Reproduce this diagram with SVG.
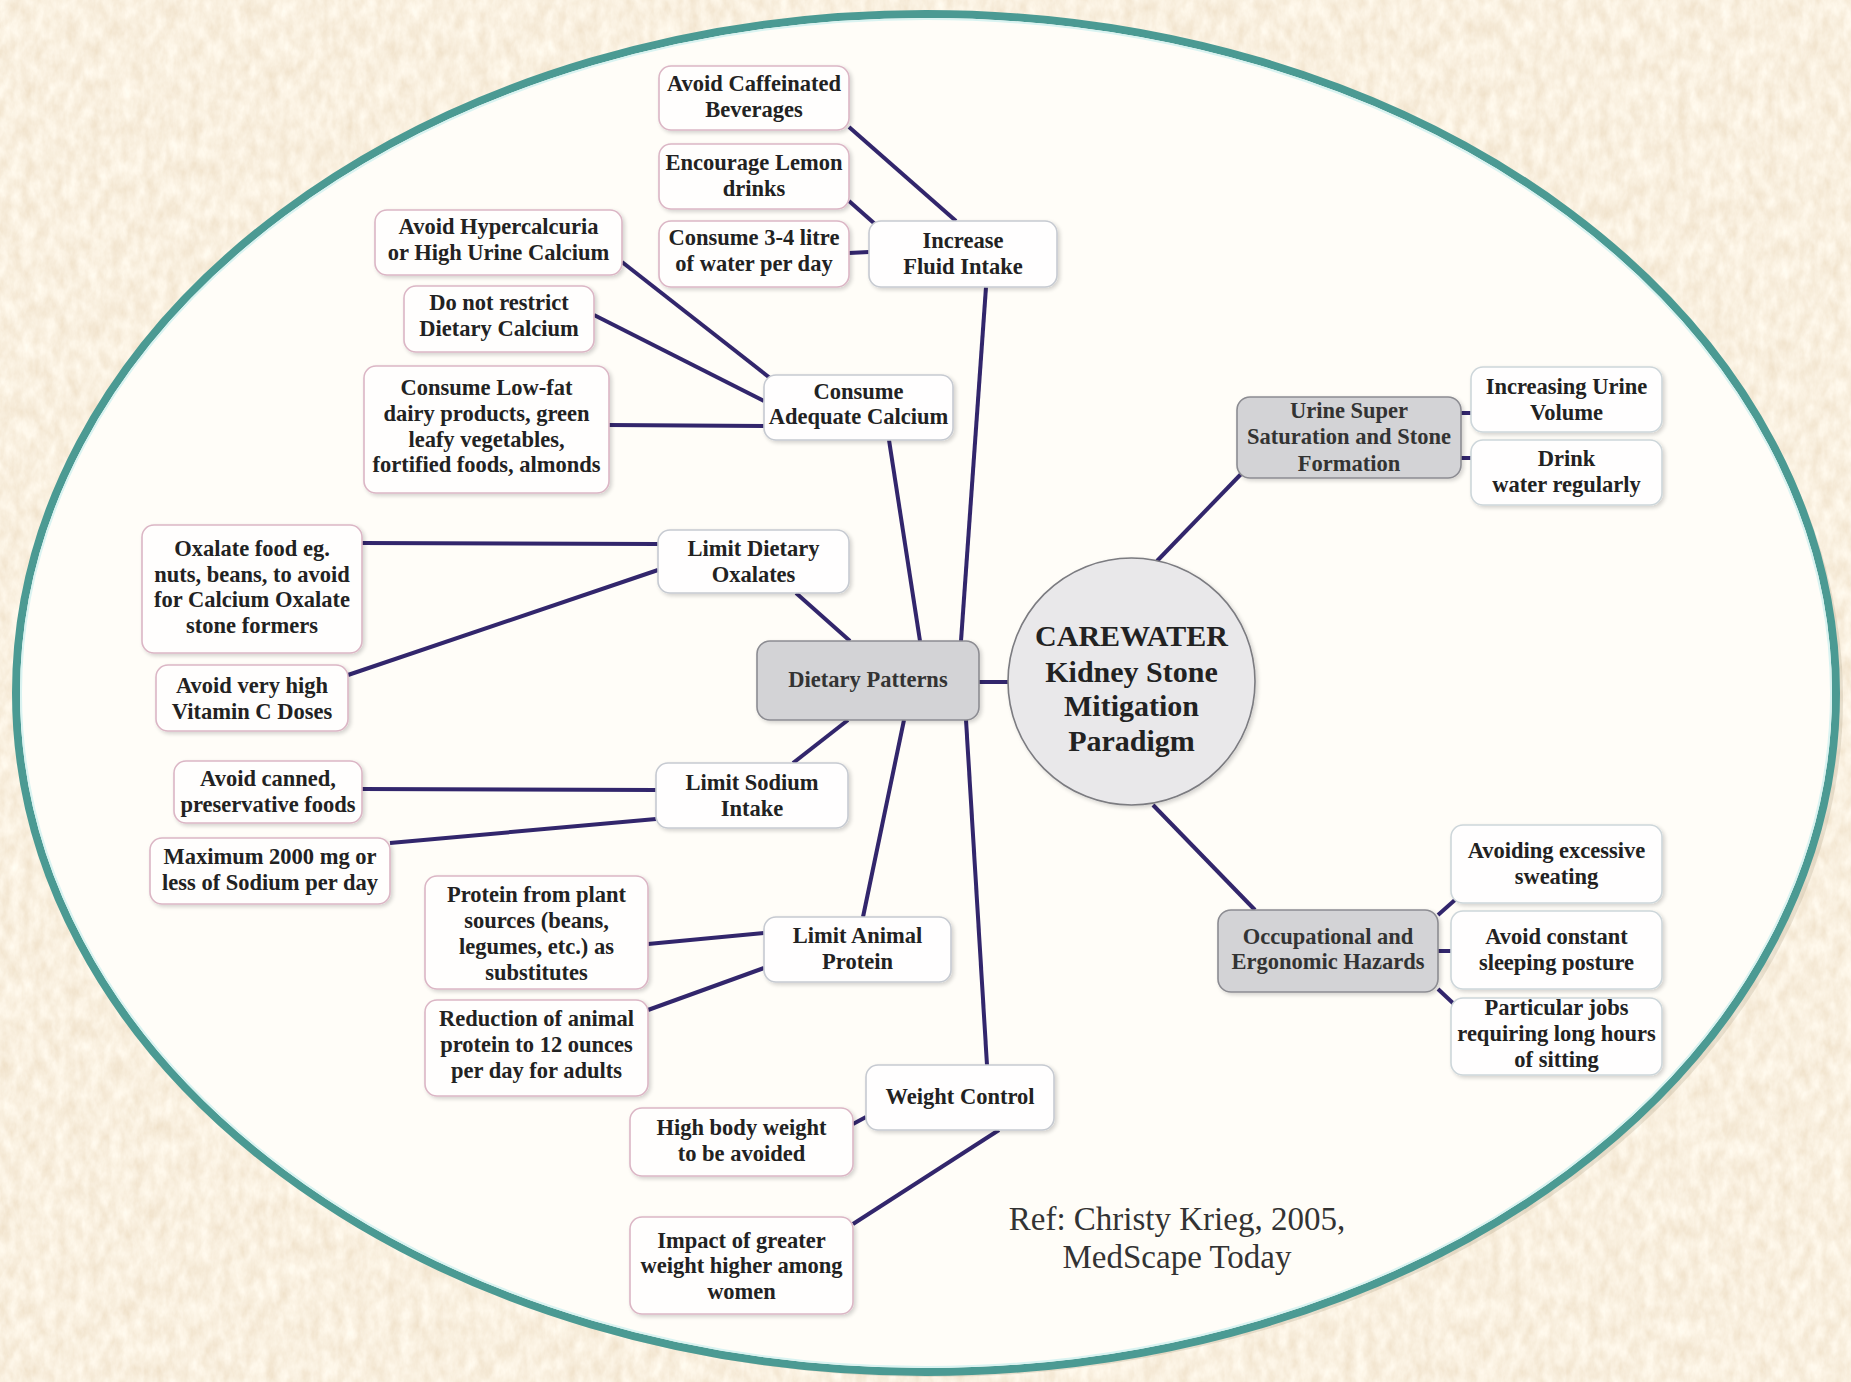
<svg xmlns="http://www.w3.org/2000/svg" width="1851" height="1382" viewBox="0 0 1851 1382">
<defs>
<filter id="paper" x="0" y="0" width="100%" height="100%" filterUnits="userSpaceOnUse">
<feTurbulence type="fractalNoise" baseFrequency="0.09 0.05" numOctaves="4" seed="11" result="n"/>
<feColorMatrix in="n" type="matrix" values="0.18 0 0 0 0.86  0.26 0 0 0 0.74  0.34 0 0 0 0.57  0 0 0 0 1"/>
</filter>
<filter id="shadow" x="-10%" y="-10%" width="130%" height="130%">
<feGaussianBlur in="SourceAlpha" stdDeviation="2"/>
<feOffset dx="1.5" dy="2" result="b"/>
<feComponentTransfer><feFuncA type="linear" slope="0.18"/></feComponentTransfer>
<feMerge><feMergeNode/><feMergeNode in="SourceGraphic"/></feMerge>
</filter>
</defs>
<style>
text{font-family:"Liberation Serif","Times New Roman",serif;font-weight:bold;font-size:22.5px;fill:#222;text-anchor:middle}
.leaf rect{fill:#fffefd;stroke:#dbb6c5;stroke-width:1.6}
.cat rect{fill:#fffefe;stroke:#c6cad1;stroke-width:1.6}
.rleaf rect{fill:#fffefe;stroke:#cdd6da;stroke-width:1.6}
.grey rect{fill:#d3d3d6;stroke:#8c8c92;stroke-width:1.6}
.grey text{fill:#333}
.conn line{stroke:#32266c;stroke-width:4}
.ref{font-weight:normal;font-size:33px;fill:#333}
.core text{font-size:30px;fill:#222}
</style>
<rect x="0" y="0" width="1851" height="1382" fill="#f2dcb9"/>
<rect x="0" y="0" width="1851" height="1382" filter="url(#paper)"/>
<ellipse cx="928" cy="695" rx="912" ry="678" fill="#a99a7f" opacity="0.25" transform="translate(3,4)"/>
<ellipse cx="926" cy="693" rx="910" ry="679" fill="#fffdf8" stroke="#4b9a93" stroke-width="8"/>
<ellipse cx="926" cy="693" rx="905" ry="674" fill="none" stroke="#d9f3f1" stroke-width="2"/>

<g class="conn">
<line x1="849" y1="127" x2="956" y2="221"/>
<line x1="849" y1="201" x2="875" y2="224"/>
<line x1="849" y1="253" x2="869" y2="252"/>
<line x1="986" y1="287" x2="961" y2="641"/>
<line x1="622" y1="262" x2="770" y2="378"/>
<line x1="594" y1="315" x2="764" y2="401"/>
<line x1="609" y1="425" x2="764" y2="426"/>
<line x1="889" y1="440" x2="920" y2="641"/>
<line x1="362" y1="543" x2="658" y2="544"/>
<line x1="348" y1="675" x2="658" y2="570"/>
<line x1="796" y1="593" x2="850" y2="641"/>
<line x1="848" y1="720" x2="793" y2="763"/>
<line x1="362" y1="789" x2="656" y2="790"/>
<line x1="390" y1="843" x2="656" y2="819"/>
<line x1="904" y1="720" x2="863" y2="917"/>
<line x1="648" y1="944" x2="764" y2="933"/>
<line x1="648" y1="1010" x2="764" y2="968"/>
<line x1="966" y1="720" x2="987" y2="1065"/>
<line x1="853" y1="1124" x2="866" y2="1117"/>
<line x1="999" y1="1130" x2="853" y2="1224"/>
<line x1="979" y1="682" x2="1008" y2="682"/>
<line x1="1157" y1="561" x2="1243" y2="472"/>
<line x1="1461" y1="413" x2="1471" y2="413"/>
<line x1="1461" y1="458" x2="1471" y2="458"/>
<line x1="1153" y1="805" x2="1255" y2="910"/>
<line x1="1438" y1="915" x2="1456" y2="899"/>
<line x1="1438" y1="951" x2="1451" y2="951"/>
<line x1="1438" y1="989" x2="1456" y2="1006"/>
</g>

<g id="core" class="core">
<ellipse cx="1131.5" cy="681.5" rx="123.5" ry="123.5" fill="#e9e8ea" stroke="#7b7b80" stroke-width="1.6" filter="url(#shadow)"/>
<text x="1131.5" y="646">CAREWATER</text>
<text x="1131.5" y="682">Kidney Stone</text>
<text x="1131.5" y="716">Mitigation</text>
<text x="1131.5" y="751">Paradigm</text>
</g>

<g id="dietary" class="grey"><rect x="757" y="641" width="222" height="79" rx="13" filter="url(#shadow)"/><text x="868" y="687">Dietary Patterns</text></g>
<g id="urine-super" class="grey"><rect x="1237" y="397" width="224" height="81" rx="13" filter="url(#shadow)"/><text x="1349" y="418">Urine Super</text><text x="1349" y="444">Saturation and Stone</text><text x="1349" y="471">Formation</text></g>
<g id="occupational" class="grey"><rect x="1218" y="910" width="220" height="82" rx="13" filter="url(#shadow)"/><text x="1328" y="944">Occupational and</text><text x="1328" y="969">Ergonomic Hazards</text></g>

<g id="avoid-caffeine" class="leaf"><rect x="659" y="66" width="190" height="64" rx="12" filter="url(#shadow)"/><text x="754" y="91">Avoid Caffeinated</text><text x="754" y="117">Beverages</text></g>
<g id="lemon" class="leaf"><rect x="659" y="144" width="190" height="65" rx="12" filter="url(#shadow)"/><text x="754" y="170">Encourage Lemon</text><text x="754" y="196">drinks</text></g>
<g id="water" class="leaf"><rect x="659" y="221" width="190" height="66" rx="12" filter="url(#shadow)"/><text x="754" y="245">Consume 3-4 litre</text><text x="754" y="271">of water per day</text></g>
<g id="fluid" class="cat"><rect x="869" y="221" width="188" height="66" rx="12" filter="url(#shadow)"/><text x="963" y="248">Increase</text><text x="963" y="274">Fluid Intake</text></g>

<g id="hypercalciuria" class="leaf"><rect x="375" y="210" width="247" height="65" rx="12" filter="url(#shadow)"/><text x="498.5" y="234">Avoid Hypercalcuria</text><text x="498.5" y="260">or High Urine Calcium</text></g>
<g id="no-restrict" class="leaf"><rect x="404" y="286" width="190" height="66" rx="12" filter="url(#shadow)"/><text x="499" y="310">Do not restrict</text><text x="499" y="336">Dietary Calcium</text></g>
<g id="low-fat" class="leaf"><rect x="364" y="366" width="245" height="127" rx="12" filter="url(#shadow)"/><text x="486.5" y="395">Consume Low-fat</text><text x="486.5" y="421">dairy products, green</text><text x="486.5" y="447">leafy vegetables,</text><text x="486.5" y="472">fortified foods, almonds</text></g>
<g id="calcium" class="cat"><rect x="764" y="375" width="189" height="65" rx="12" filter="url(#shadow)"/><text x="858.5" y="399">Consume</text><text x="858.5" y="424">Adequate Calcium</text></g>

<g id="oxalates" class="cat"><rect x="658" y="530" width="191" height="63" rx="12" filter="url(#shadow)"/><text x="753.5" y="556">Limit Dietary</text><text x="753.5" y="582">Oxalates</text></g>
<g id="oxalate-food" class="leaf"><rect x="142" y="525" width="220" height="128" rx="12" filter="url(#shadow)"/><text x="252" y="556">Oxalate food eg.</text><text x="252" y="582">nuts, beans, to avoid</text><text x="252" y="607">for Calcium Oxalate</text><text x="252" y="633">stone formers</text></g>
<g id="vitamin-c" class="leaf"><rect x="156" y="665" width="192" height="66" rx="12" filter="url(#shadow)"/><text x="252" y="693">Avoid very high</text><text x="252" y="719">Vitamin C Doses</text></g>

<g id="sodium" class="cat"><rect x="656" y="763" width="192" height="65" rx="12" filter="url(#shadow)"/><text x="752" y="790">Limit Sodium</text><text x="752" y="816">Intake</text></g>
<g id="canned" class="leaf"><rect x="174" y="761" width="188" height="62" rx="12" filter="url(#shadow)"/><text x="268" y="786">Avoid canned,</text><text x="268" y="812">preservative foods</text></g>
<g id="max-sodium" class="leaf"><rect x="150" y="838" width="240" height="66" rx="12" filter="url(#shadow)"/><text x="270" y="864">Maximum 2000 mg or</text><text x="270" y="890">less of Sodium per day</text></g>

<g id="animal-protein" class="cat"><rect x="764" y="917" width="187" height="65" rx="12" filter="url(#shadow)"/><text x="857.5" y="943">Limit Animal</text><text x="857.5" y="969">Protein</text></g>
<g id="plant-protein" class="leaf"><rect x="425" y="876" width="223" height="113" rx="12" filter="url(#shadow)"/><text x="536.5" y="902">Protein from plant</text><text x="536.5" y="928">sources (beans,</text><text x="536.5" y="954">legumes, etc.) as</text><text x="536.5" y="980">substitutes</text></g>
<g id="reduction" class="leaf"><rect x="425" y="1000" width="223" height="96" rx="12" filter="url(#shadow)"/><text x="536.5" y="1026">Reduction of animal</text><text x="536.5" y="1052">protein to 12 ounces</text><text x="536.5" y="1078">per day for adults</text></g>

<g id="weight" class="cat"><rect x="866" y="1065" width="188" height="65" rx="12" filter="url(#shadow)"/><text x="960" y="1104">Weight Control</text></g>
<g id="high-body-weight" class="leaf"><rect x="630" y="1108" width="223" height="68" rx="12" filter="url(#shadow)"/><text x="741.5" y="1135">High body weight</text><text x="741.5" y="1161">to be avoided</text></g>
<g id="impact-women" class="leaf"><rect x="630" y="1217" width="223" height="97" rx="12" filter="url(#shadow)"/><text x="741.5" y="1248">Impact of greater</text><text x="741.5" y="1273">weight higher among</text><text x="741.5" y="1299">women</text></g>

<g id="urine-volume" class="rleaf"><rect x="1471" y="367" width="191" height="65" rx="12" filter="url(#shadow)"/><text x="1566.5" y="394">Increasing Urine</text><text x="1566.5" y="420">Volume</text></g>
<g id="drink-water" class="rleaf"><rect x="1471" y="440" width="191" height="65" rx="12" filter="url(#shadow)"/><text x="1566.5" y="466">Drink</text><text x="1566.5" y="492">water regularly</text></g>

<g id="sweating" class="rleaf"><rect x="1451" y="825" width="211" height="78" rx="12" filter="url(#shadow)"/><text x="1556.5" y="858">Avoiding excessive</text><text x="1556.5" y="884">sweating</text></g>
<g id="sleeping" class="rleaf"><rect x="1451" y="911" width="211" height="78" rx="12" filter="url(#shadow)"/><text x="1556.5" y="944">Avoid constant</text><text x="1556.5" y="970">sleeping posture</text></g>
<g id="sitting" class="rleaf"><rect x="1451" y="998" width="211" height="77" rx="12" filter="url(#shadow)"/><text x="1556.5" y="1015">Particular jobs</text><text x="1556.5" y="1041">requiring long hours</text><text x="1556.5" y="1067">of sitting</text></g>

<g id="reference"><text class="ref" x="1177" y="1230">Ref: Christy Krieg, 2005,</text><text class="ref" x="1177" y="1268">MedScape Today</text></g>
</svg>
